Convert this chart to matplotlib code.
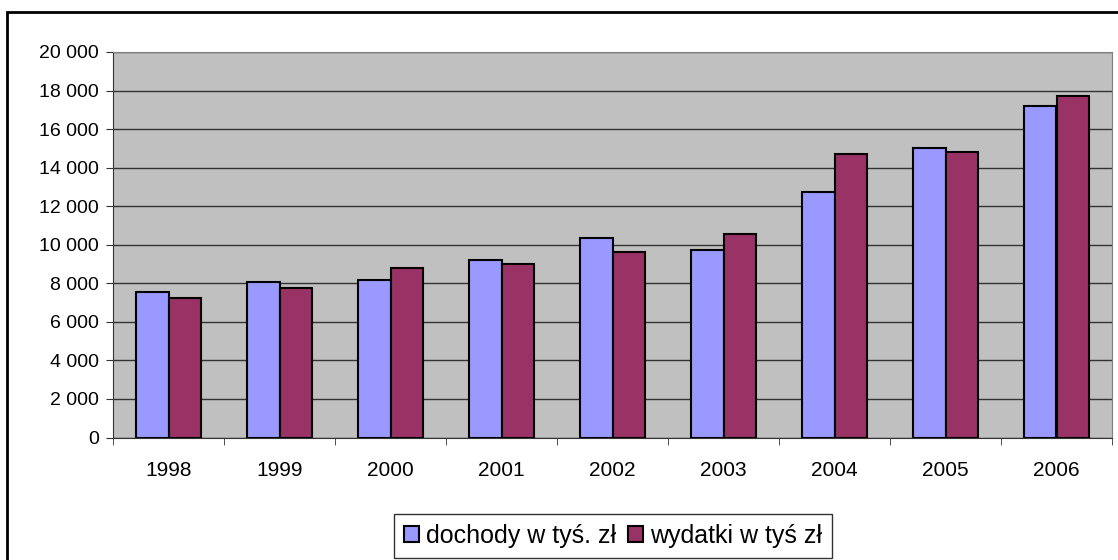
import matplotlib.pyplot as plt
import matplotlib.patches as mpatches
import numpy as np
from matplotlib.ticker import FuncFormatter

plt.rcParams['font.family'] = ['Liberation Sans', 'DejaVu Sans']

years = ['1998', '1999', '2000', '2001', '2002', '2003', '2004', '2005', '2006']
dochody = [7560, 8070, 8160, 9210, 10350, 9730, 12740, 15020, 17200]
wydatki = [7240, 7760, 8810, 9000, 9620, 10560, 14710, 14810, 17720]

fig = plt.figure(figsize=(11.18, 5.6), dpi=100)
# outer chart frame
fig.patches.append(mpatches.Rectangle((7 / 1118, -0.1), 1.2, (560 - 12) / 560 + 0.1,
                                      transform=fig.transFigure, fill=False,
                                      edgecolor='black', linewidth=2, zorder=0))

ax = fig.add_axes([113 / 1118, (560 - 437.5) / 560, 999 / 1118, 385.5 / 560])
ax.set_facecolor('#C0C0C0')

x = np.arange(len(years))
w = 0.29
ax.bar(x - w / 2, dochody, w, color='#9999FF', edgecolor='black', linewidth=1.5,
       label='dochody w tyś. zł', zorder=3)
ax.bar(x + w / 2, wydatki, w, color='#993366', edgecolor='black', linewidth=1.5,
       label='wydatki w tyś zł', zorder=3)

ax.set_xlim(-0.5, len(years) - 0.5)
ax.set_ylim(0, 20000)
ax.set_yticks(np.arange(0, 20001, 2000))
ax.yaxis.set_major_formatter(FuncFormatter(lambda v, p: f'{int(v):,}'.replace(',', ' ')))
ax.grid(axis='y', color='#333333', linewidth=1, zorder=1)

ax.set_xticks(x)
ax.set_xticklabels(years)
ax.set_xticks(np.arange(-0.5, len(years)), minor=True)
ax.tick_params(axis='x', which='major', length=0, pad=17, labelsize=15)
ax.tick_params(axis='x', which='minor', length=5, color='#333333')
ax.tick_params(axis='y', length=5, color='#333333', labelsize=14, pad=5)

for s in ['top', 'right']:
    ax.spines[s].set_color('#808080')
for s in ['left', 'bottom']:
    ax.spines[s].set_color('#333333')

leg = fig.legend(loc='center', bbox_to_anchor=(613 / 1118, (560 - 536) / 560), ncol=2,
                 fontsize=18, frameon=True, fancybox=False, edgecolor='black',
                 handlelength=0.6, handleheight=0.6, handletextpad=0.25, columnspacing=0.5,
                 borderpad=0.4)
leg.get_frame().set_linewidth(1)

plt.savefig('out.png', dpi=100)
